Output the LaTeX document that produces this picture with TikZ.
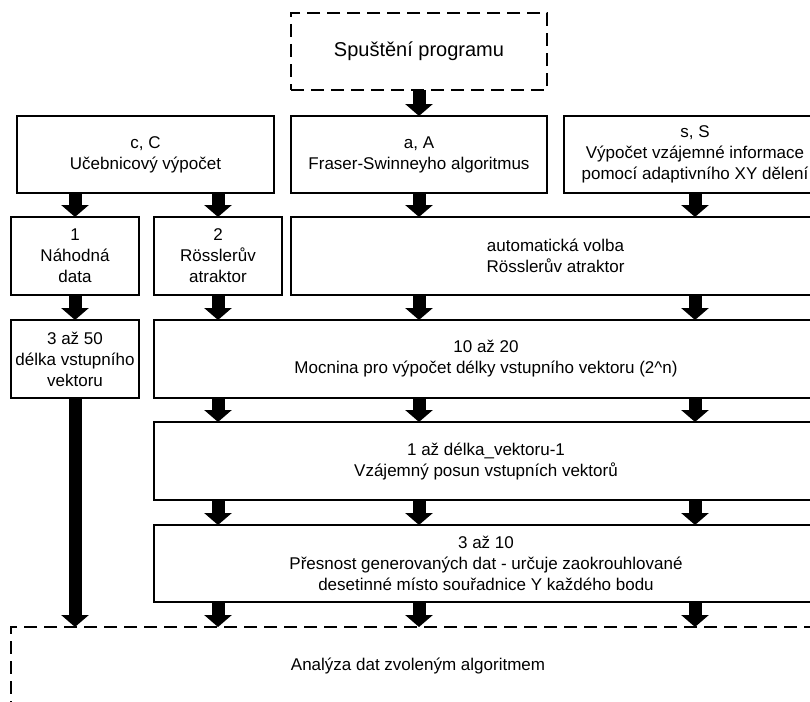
\documentclass[tikz,border=0pt]{standalone}
\usepackage{fontspec}
\setmainfont{Liberation Sans}
\usetikzlibrary{arrows.meta}

\begin{document}
\begin{tikzpicture}[x=1pt,y=-1pt,
	box/.style={draw, line width=1.3pt, rectangle, align=center, inner sep=0pt, outer sep=0pt, font=\fontsize{17}{21}\selectfont},
	dashbox/.style={box, dash pattern=on 13pt off 7pt},
	arr/.style={line width=13pt, -{Triangle[width=27pt,length=12pt]}}]
		\useasboundingbox (0,0) rectangle (810,701);
		
		\node[dashbox, minimum width=256pt, minimum height=77pt, font=\fontsize{20}{24}\selectfont] (start) at (419,51.5) {Spuštění programu};
		
		\node[box, minimum width=257pt, minimum height=77pt] (cmode) at (145.5,154.5) {c, C\\Učebnicový výpočet};
		\node[box, minimum width=256pt, minimum height=77pt] (amode) at (419,154.5) {a, A\\Fraser-Swinneyho algoritmus};
		\node[box, minimum width=262pt, minimum height=77pt] (smode) at (695,154.5) {s, S\\Výpočet vzájemné informace\\pomocí adaptivního XY dělení};
		
		\node[box, minimum width=128pt, minimum height=78pt] (rnd) at (75,256) {1\\Náhodná\\data};
		\node[box, minimum width=128pt, minimum height=78pt] (ross) at (218,256) {2\\Rösslerův\\atraktor};
		\node[box, minimum width=529pt, minimum height=78pt] (auto) at (555.5,256) {automatická volba\\Rösslerův atraktor};
		
		\node[box, minimum width=128pt, minimum height=78pt] (veclen) at (75,359) {3 až 50\\délka vstupního\\vektoru};
		\node[box, minimum width=664pt, minimum height=78pt] (power) at (486,359) {10 až 20\\Mocnina pro výpočet délky vstupního vektoru (2\textasciicircum n)};
		\node[box, minimum width=664pt, minimum height=78pt] (shift) at (486,461) {1 až délka\_vektoru-1\\Vzájemný posun vstupních vektorů};
		\node[box, minimum width=664pt, minimum height=77pt] (prec) at (486,563.5) {3 až 10\\Přesnost generovaných dat - určuje zaokrouhlované\\desetinné místo souřadnice Y každého bodu};
		
		\node[dashbox, minimum width=814pt, minimum height=78pt] (analysis) at (418,666) {Analýza dat zvoleným algoritmem};
		
		\draw[arr] (start) -- (amode);
		\draw[arr] (rnd.north |- cmode.south) -- (rnd.north);
		\draw[arr] (ross.north |- cmode.south) -- (ross.north);
		\draw[arr] (amode.south) -- (amode.south |- auto.north);
		\draw[arr] (smode.south) -- (smode.south |- auto.north);
		
		\draw[arr] (rnd.south) -- (veclen.north);
		\draw[arr] (ross.south) -- (ross.south |- power.north);
		\draw[arr] (amode.south |- auto.south) -- (amode.south |- power.north);
		\draw[arr] (smode.south |- auto.south) -- (smode.south |- power.north);
		
		\draw[arr] (ross.south |- power.south) -- (ross.south |- shift.north);
		\draw[arr] (amode.south |- power.south) -- (amode.south |- shift.north);
		\draw[arr] (smode.south |- power.south) -- (smode.south |- shift.north);
		
		\draw[arr] (ross.south |- shift.south) -- (ross.south |- prec.north);
		\draw[arr] (amode.south |- shift.south) -- (amode.south |- prec.north);
		\draw[arr] (smode.south |- shift.south) -- (smode.south |- prec.north);
		
		\draw[arr] (veclen.south) -- (veclen.south |- analysis.north);
		\draw[arr] (ross.south |- prec.south) -- (ross.south |- analysis.north);
		\draw[arr] (amode.south |- prec.south) -- (amode.south |- analysis.north);
		\draw[arr] (smode.south |- prec.south) -- (smode.south |- analysis.north);
		\end{tikzpicture}
\end{document}
